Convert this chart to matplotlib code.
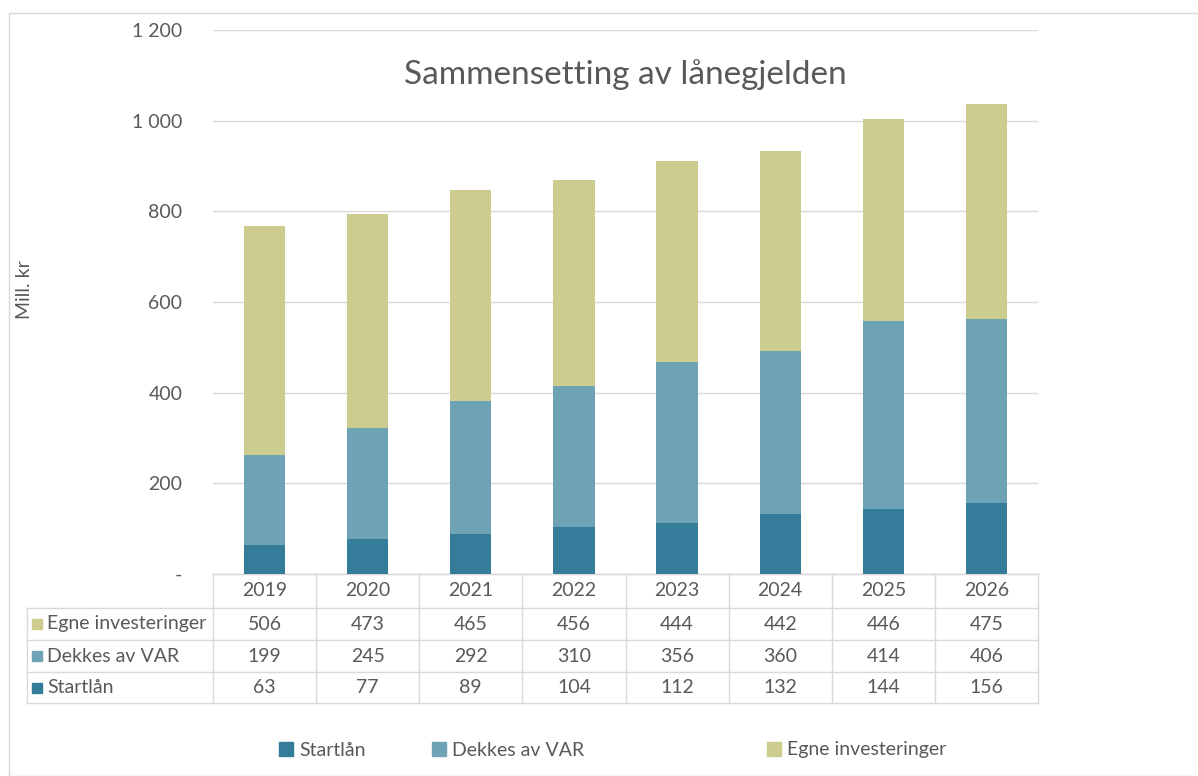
import matplotlib.pyplot as plt
import matplotlib as mpl
from matplotlib.patches import Rectangle
from matplotlib.lines import Line2D

mpl.rcParams['font.family'] = ['Lato', 'DejaVu Sans']

years = ['2019', '2020', '2021', '2022', '2023', '2024', '2025', '2026']
startlaan = [63, 77, 89, 104, 112, 132, 144, 156]
dekkes_var = [199, 245, 292, 310, 356, 360, 414, 406]
egne_inv = [506, 473, 465, 456, 444, 442, 446, 475]
series_names = ['Startlån', 'Dekkes av VAR', 'Egne investeringer']
yticks = [0, 200, 400, 600, 800, 1000, 1200]
ytick_labels = ['-', '200', '400', '600', '800', '1 000', '1 200']

colors = ['#357c9a', '#6ea3b5', '#cbcc8e']
txt = '#595959'
grid = '#d9d9d9'
fs = 14

W, H = 1198, 776
fig = plt.figure(figsize=(W / 100, H / 100), dpi=100)
# outer chart frame
fig.patches.append(Rectangle((9 / W, 0), 1, 1 - 13 / H, transform=fig.transFigure,
                             fill=False, edgecolor=grid, lw=1))

ax = fig.add_axes([213 / W, 1 - 574 / H, 825 / W, 544 / H])
x = list(range(len(years)))
bottom2 = [a + b for a, b in zip(startlaan, dekkes_var)]
bw = 0.4
ax.bar(x, startlaan, width=bw, color=colors[0], zorder=3)
ax.bar(x, dekkes_var, width=bw, bottom=startlaan, color=colors[1], zorder=3)
ax.bar(x, egne_inv, width=bw, bottom=bottom2, color=colors[2], zorder=3)

ax.set_xlim(-0.5, len(years) - 0.5)
ax.set_ylim(0, 1200)
ax.set_yticks(yticks)
ax.set_yticklabels(ytick_labels)
ax.set_xticks([])
ax.tick_params(axis='y', length=0, pad=22, labelsize=fs, labelcolor=txt)
ax.yaxis.grid(True, color=grid, lw=1, zorder=0)
for s in ['top', 'right', 'left']:
    ax.spines[s].set_visible(False)
ax.spines['bottom'].set_color(grid)

fig.text(24 / W, 1 - 290 / H, 'Mill. kr', rotation=90, ha='center', va='center',
         fontsize=fs, color=txt)
fig.text(625 / W, 1 - 75 / H, 'Sammensetting av lånegjelden', ha='center', va='center',
         fontsize=24, color=txt)

# data table under the axis
tr = ax.get_xaxis_transform()
px_per_unit = 825 / len(years)
xl = -0.5 - 186 / px_per_unit
rows = [0, -34 / 544, -66 / 544, -98 / 544, -129 / 544]
xr = len(years) - 0.5
for i, yy in enumerate(rows):
    x0 = -0.5 if i == 0 else xl
    ax.add_line(Line2D([x0, xr], [yy, yy], transform=tr, color=grid, lw=1, clip_on=False))
for k in range(len(years) + 1):
    ax.add_line(Line2D([k - 0.5, k - 0.5], [0, rows[-1]], transform=tr, color=grid,
                       lw=1, clip_on=False))
ax.add_line(Line2D([xl, xl], [rows[1], rows[-1]], transform=tr, color=grid, lw=1, clip_on=False))

for k, yr in enumerate(years):
    ax.text(k, (rows[0] + rows[1]) / 2, yr, transform=tr, ha='center', va='center',
            fontsize=fs, color=txt)
table_rows = [(series_names[2], egne_inv, colors[2]),
              (series_names[1], dekkes_var, colors[1]),
              (series_names[0], startlaan, colors[0])]
sq_w = 10 / px_per_unit
for r, (name, vals, c) in enumerate(table_rows):
    yc = (rows[r + 1] + rows[r + 2]) / 2
    ax.add_patch(Rectangle((xl + 5 / px_per_unit, yc - 5 / 544), sq_w, 10 / 544,
                           transform=tr, color=c, clip_on=False))
    ax.text(xl + 20 / px_per_unit, yc, name, transform=tr, ha='left', va='center',
            fontsize=fs, color=txt)
    for k, v in enumerate(vals):
        ax.text(k, yc, str(v), transform=tr, ha='center', va='center',
                fontsize=fs, color=txt)

# legend at the bottom
leg_x = [279, 432, 767]
for i, name in enumerate(series_names):
    h = [Rectangle((0, 0), 1, 1, color=colors[i])]
    fig.legend(h, [name], loc='center left', bbox_to_anchor=(leg_x[i] / W, 1 - 750 / H),
               frameon=False, fontsize=fs, handlelength=0.7, handleheight=0.7,
               handletextpad=0.35, labelcolor=txt, borderaxespad=0, borderpad=0)

fig.savefig('out.png', dpi=100)
